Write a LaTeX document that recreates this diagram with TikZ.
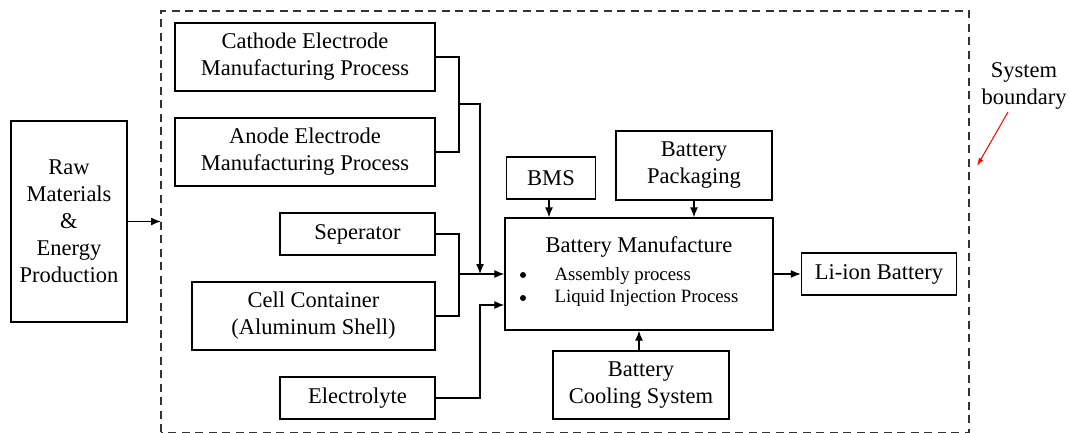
\documentclass[tikz,border=0pt]{standalone}
\usepackage{fontspec}
\setmainfont{Liberation Serif}
\usetikzlibrary{arrows.meta,calc}
\begin{document}
\begin{tikzpicture}[x=1pt,y=-1pt,
  box/.style={draw,line width=1.3pt,inner sep=0pt,align=center,font=\fontsize{22.5}{27}\selectfont},
  conn/.style={line width=1.3pt},
  arr/.style={line width=1.3pt,-{Latex[length=10pt,width=8pt]}},
  bnd/.style={line width=1.3pt,draw=black!80,dash pattern=on 8pt off 5.5pt}]
\useasboundingbox (0,0) rectangle (1069,432);
\clip (0,0) rectangle (1069,432);
% boundary
\draw[bnd] (161,432.3) -- (161,11) -- (969,11) -- (969,432.3) -- cycle;
% nodes
\node[box,minimum width=116pt,minimum height=201pt] (raw) at (69,221.5) {Raw\\Materials\\\&\\Energy\\Production};
\node[box,minimum width=260pt,minimum height=68pt] (cathode) at (305,57) {Cathode Electrode\\Manufacturing Process};
\node[box,minimum width=260pt,minimum height=68pt] (anode) at (305,152) {Anode Electrode\\Manufacturing Process};
\node[box,minimum width=155pt,minimum height=42pt] (sep) at (357.5,234) {Seperator};
\node[box,minimum width=243pt,minimum height=68pt] (cell) at (313.5,316) {Cell Container\\(Aluminum Shell)};
\node[box,minimum width=155pt,minimum height=42pt] (elec) at (357.5,398) {Electrolyte};
\node[box,minimum width=268pt,minimum height=112pt] (bm) at (639,274) {};
\node[font=\fontsize{22.5}{27}\selectfont] (bmt) at (639,247) {Battery Manufacture};
\node[font=\fontsize{18.8}{23}\selectfont,anchor=west] (b1) at (551,276) {Assembly process};
\node[font=\fontsize{18.8}{23}\selectfont,anchor=west] (b2) at (551,298) {Liquid Injection Process};
\fill (523,275) circle (3pt);
\fill (523,298) circle (3pt);
\node[box,minimum width=89pt,minimum height=42pt] (bms) at (551,178) {BMS};
\node[box,minimum width=156pt,minimum height=69pt] (pack) at (694,165.5) {Battery\\Packaging};
\node[box,minimum width=176pt,minimum height=68pt] (cool) at (641,385) {Battery\\Cooling System};
\node[box,minimum width=155pt,minimum height=42pt] (li) at (879,274) {Li-ion Battery};
\node[align=center,font=\fontsize{22.5}{27}\selectfont] (sb) at (1024,86) {System\\boundary};
% coordinates
\coordinate (ca) at (459,104);
\coordinate (sc) at (459,274);
\coordinate (dn) at (480,274);
\coordinate (e1) at (480,305);
\coordinate (bl) at (161,221.5);
\coordinate (rs) at (1008,112);
\coordinate (re) at (977,166);
% connectors
\draw[arr] (raw.east) -- (bl);
\draw[conn] (cathode.east) -| (ca) |- (anode.east);
\draw[arr] (ca) -| (dn);
\draw[conn] (sep.east) -| (sc) |- (cell.east);
\draw[arr] (sc) -- (sc -| bm.west);
\draw[arr] (elec.east) -| (e1) -- (e1 -| bm.west);
\draw[arr] (549,0 |- bms.south) -- (549,0 |- bm.north);
\draw[arr] (pack.south) -- (pack.south |- bm.north);
\draw[arr] (639,0 |- cool.north) -- (639,0 |- bm.south);
\draw[arr] (bm.east) -- (li.west);
\draw[red,line width=1pt,-{Latex[length=8pt,width=5pt]}] (rs) -- (re);
\end{tikzpicture}
\end{document}
